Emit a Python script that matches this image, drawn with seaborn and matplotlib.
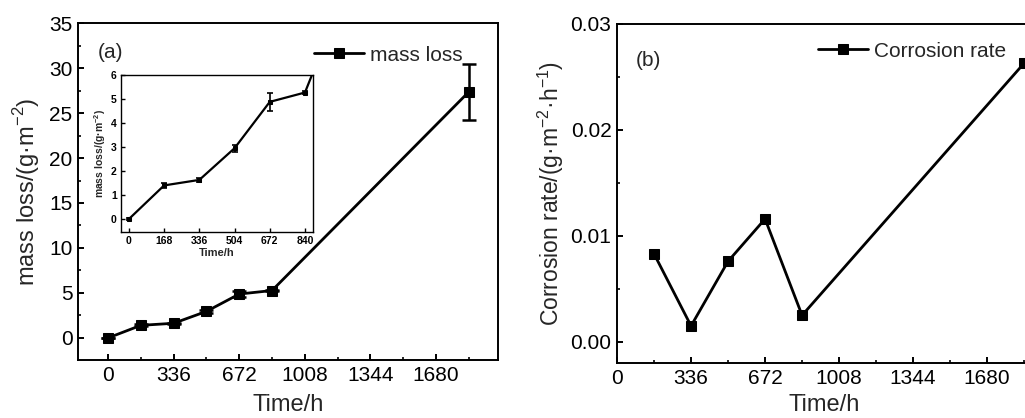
import numpy as np
import pandas as pd
import matplotlib
matplotlib.use("Agg")
import matplotlib.pyplot as plt
from matplotlib.ticker import MultipleLocator, FixedLocator
import seaborn as sns

# ---- data ----
time_h = [0, 168, 336, 504, 672, 840, 1848]
mass_loss = [0.0, 1.40, 1.63, 2.95, 4.88, 5.27, 27.35]
mass_err = [0.03, 0.12, 0.08, 0.15, 0.38, 0.05, 3.15]

rate_time = [168, 336, 504, 672, 840, 1848]
corrosion_rate = [0.0083, 0.0015, 0.0076, 0.0116, 0.0025, 0.0263]

xticks_main = [0, 336, 672, 1008, 1344, 1680]
xticks_inset = [0, 168, 336, 504, 672, 840]

sns.set_theme(style="ticks")
plt.rcParams['font.family'] = ['Liberation Sans', 'DejaVu Sans']
plt.rcParams['mathtext.fontset'] = 'custom'
plt.rcParams['mathtext.rm'] = 'Liberation Sans'
plt.rcParams['mathtext.bf'] = 'Liberation Sans:bold'

fig = plt.figure(figsize=(10.25, 4.18), dpi=100)

df_m = pd.DataFrame({"Time": time_h, "mass": mass_loss, "err": mass_err})
df_r = pd.DataFrame({"Time": rate_time, "rate": corrosion_rate})

def style_axis(ax, lw=1.4, size=15, major_len=4, minor_len=2.5, pad=4):
    for sp in ax.spines.values():
        sp.set_linewidth(lw)
        sp.set_color("black")
    ax.tick_params(which="major", direction="in", length=major_len, width=lw,
                   labelsize=size, colors="black", pad=pad)
    ax.tick_params(which="minor", direction="in", length=minor_len, width=lw)

# ---- left panel ----
ax1 = fig.add_axes([0.0761, 0.1388, 0.4098, 0.806])
sns.lineplot(data=df_m, x="Time", y="mass", ax=ax1, color="black", lw=2,
             marker="s", markersize=7, markeredgecolor="black",
             label="mass loss", legend=False)
ax1.errorbar(time_h, mass_loss, yerr=mass_err, fmt="none", ecolor="black",
             elinewidth=1.8, capsize=5, capthick=1.8)
ax1.set_xlim(-154, 1998)
ax1.set_ylim(-2.45, 35)
ax1.xaxis.set_major_locator(FixedLocator(xticks_main))
ax1.xaxis.set_minor_locator(MultipleLocator(168))
ax1.yaxis.set_major_locator(MultipleLocator(5))
ax1.yaxis.set_minor_locator(MultipleLocator(2.5))
style_axis(ax1)
ax1.set_xlabel("Time/h", fontsize=17, labelpad=7)
ax1.set_ylabel("mass loss/(g·m$^{-2}$)", fontsize=17, labelpad=5)
ax1.text(0.048, 0.94, "(a)", transform=ax1.transAxes, fontsize=15, va="top")
ax1.legend(loc="upper right", bbox_to_anchor=(0.945, 0.97), frameon=False,
           fontsize=15, handlelength=2.4, handletextpad=0.3, borderaxespad=0.2)

# ---- inset ----
axi = fig.add_axes([0.118, 0.445, 0.1873, 0.3756])
sns.lineplot(data=df_m, x="Time", y="mass", ax=axi, color="black", lw=1.6,
             marker="s", markersize=3, markeredgecolor="black", legend=False)
axi.errorbar(time_h, mass_loss, yerr=mass_err, fmt="none", ecolor="black",
             elinewidth=1.2, capsize=2.5, capthick=1.2)
axi.set_xlim(-38, 878)
axi.set_ylim(-0.54, 6)
axi.xaxis.set_major_locator(FixedLocator(xticks_inset))
axi.yaxis.set_major_locator(MultipleLocator(1))
style_axis(axi, lw=1.0, size=7.5, major_len=3, pad=3)
for lab in axi.get_xticklabels() + axi.get_yticklabels():
    lab.set_fontweight("bold")
axi.set_xlabel("Time/h", fontsize=8, fontweight="bold", labelpad=1)
axi.set_ylabel(r"mass loss/(g·m$^{\mathbf{-2}}$)", fontsize=7.5, fontweight="bold", labelpad=2)

# ---- right panel ----
ax2 = fig.add_axes([0.602, 0.1316, 0.404, 0.811])
sns.lineplot(data=df_r, x="Time", y="rate", ax=ax2, color="black", lw=2,
             marker="s", markersize=6.5, markeredgecolor="black",
             label="Corrosion rate", legend=False)
ax2.set_xlim(0, 1880)
ax2.set_ylim(-0.002, 0.03)
ax2.xaxis.set_major_locator(FixedLocator(xticks_main))
ax2.xaxis.set_minor_locator(MultipleLocator(168))
ax2.yaxis.set_major_locator(MultipleLocator(0.01))
ax2.yaxis.set_minor_locator(MultipleLocator(0.005))
ax2.yaxis.set_major_formatter(matplotlib.ticker.FormatStrFormatter("%.2f"))
style_axis(ax2)
ax2.set_xlabel("Time/h", fontsize=17, labelpad=5)
ax2.set_ylabel("Corrosion rate/(g·m$^{-2}$·h$^{-1}$)", fontsize=16.5, labelpad=3)
ax2.text(0.045, 0.92, "(b)", transform=ax2.transAxes, fontsize=15, va="top")
ax2.legend(loc="upper right", bbox_to_anchor=(0.97, 0.985), frameon=False,
           fontsize=15, handlelength=2.4, handletextpad=0.3, borderaxespad=0.2)

fig.savefig("out.png", dpi=100)
